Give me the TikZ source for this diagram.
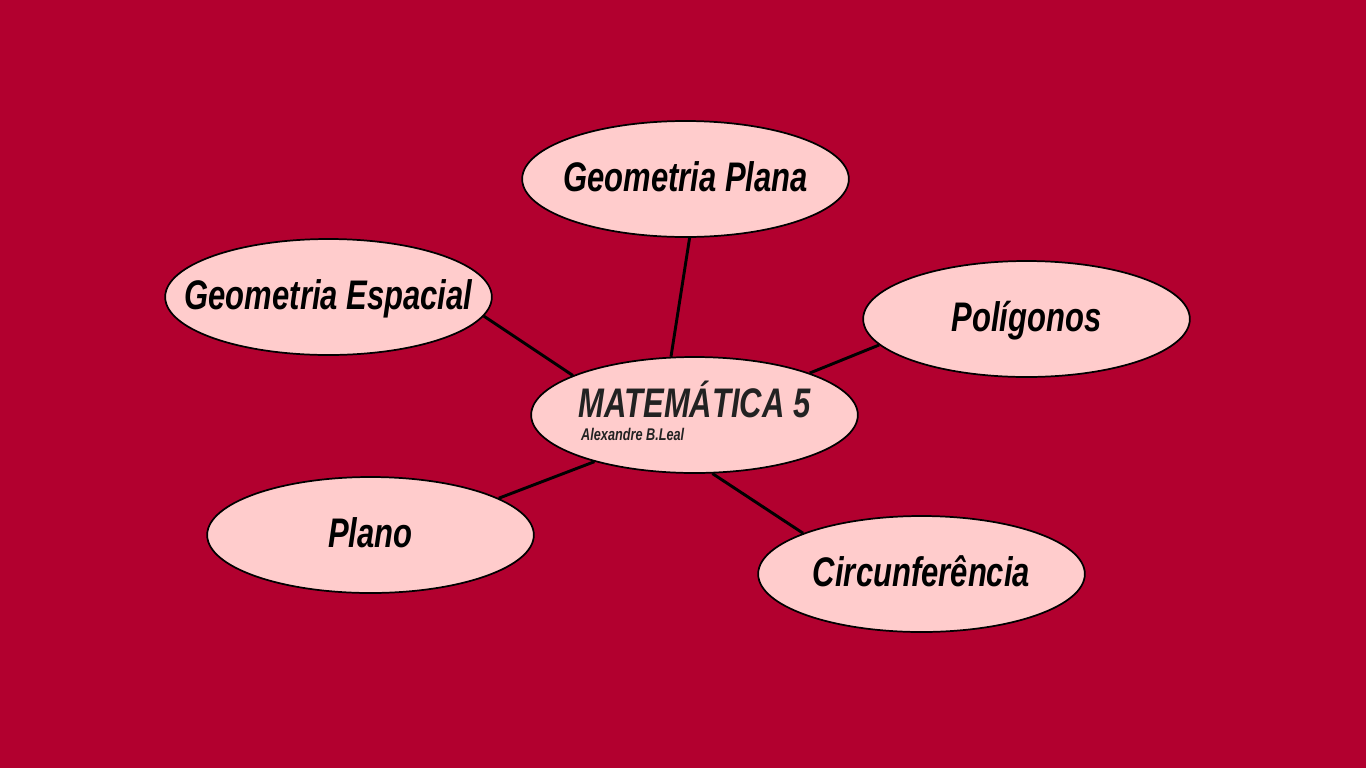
\documentclass[tikz,border=0pt]{standalone}
\usepackage{fontspec}
\usepackage{xcolor}
\usepackage{tikz}
\usetikzlibrary{shapes.geometric}

\newfontfamily\narrowsans[FakeStretch=0.75]{Liberation Sans}
\definecolor{bgred}{RGB}{178,0,47}
\definecolor{bubblepink}{RGB}{255,204,204}
\definecolor{titlegray}{RGB}{34,34,34}

\begin{document}
\begin{tikzpicture}[
x=0.75pt,
y=-0.75pt,
topic/.style={
ellipse,
draw=black,
line width=1.3pt,
fill=bubblepink,
minimum width=245pt,
minimum height=87pt,
inner xsep=-40pt,
inner ysep=0pt,
align=center,
font=\narrowsans\bfseries\itshape\fontsize{31}{36}\selectfont
},
topictext/.style={
text height=27pt,
text depth=9pt
},
link/.style={
line width=2.2pt,
black
}
]

% background
\fill[bgred] (0,0) rectangle (1366,768);
\useasboundingbox (0,0) rectangle (1366,768);

%%%%%%%%%%%%%%%%%%%%%%%%%%%%%%%%%%%%%%%%%%%%%
% Centre
%%%%%%%%%%%%%%%%%%%%%%%%%%%%%%%%%%%%%%%%%%%%%

\node[topic,align=left,text=titlegray] (mat) at (694.5,415)
{MATEMÁTICA 5\\[-19pt]
{\fontsize{12.7}{15}\selectfont\hspace*{2pt}Alexandre B.Leal\rule[-6pt]{0pt}{0pt}}};

%%%%%%%%%%%%%%%%%%%%%%%%%%%%%%%%%%%%%%%%%%%%%
% Topics
%%%%%%%%%%%%%%%%%%%%%%%%%%%%%%%%%%%%%%%%%%%%%

\node[topic,topictext] (plana) at (685.5,179)
{Geometria Plana};

\node[topic,topictext] (espacial) at (328.5,297)
{Geometria Espacial};

\node[topic,topictext] (poligonos) at (1026.5,319)
{Polígonos};

\node[topic,topictext] (plano) at (370.5,535)
{Plano};

\node[topic,topictext] (circ) at (921.5,574)
{Circunferência};

%%%%%%%%%%%%%%%%%%%%%%%%%%%%%%%%%%%%%%%%%%%%%
% Connections
%%%%%%%%%%%%%%%%%%%%%%%%%%%%%%%%%%%%%%%%%%%%%

\draw[link] (mat.112.9)--(plana.274.4);

\draw[link] (mat.162.8)--(espacial.-7.8);

\draw[link] (mat.20)--(poligonos.190.6);

\draw[link] (mat.205.3)--(plano.16.2);

\draw[link] (mat.287.7)--(circ.161);

\end{tikzpicture}
\end{document}
